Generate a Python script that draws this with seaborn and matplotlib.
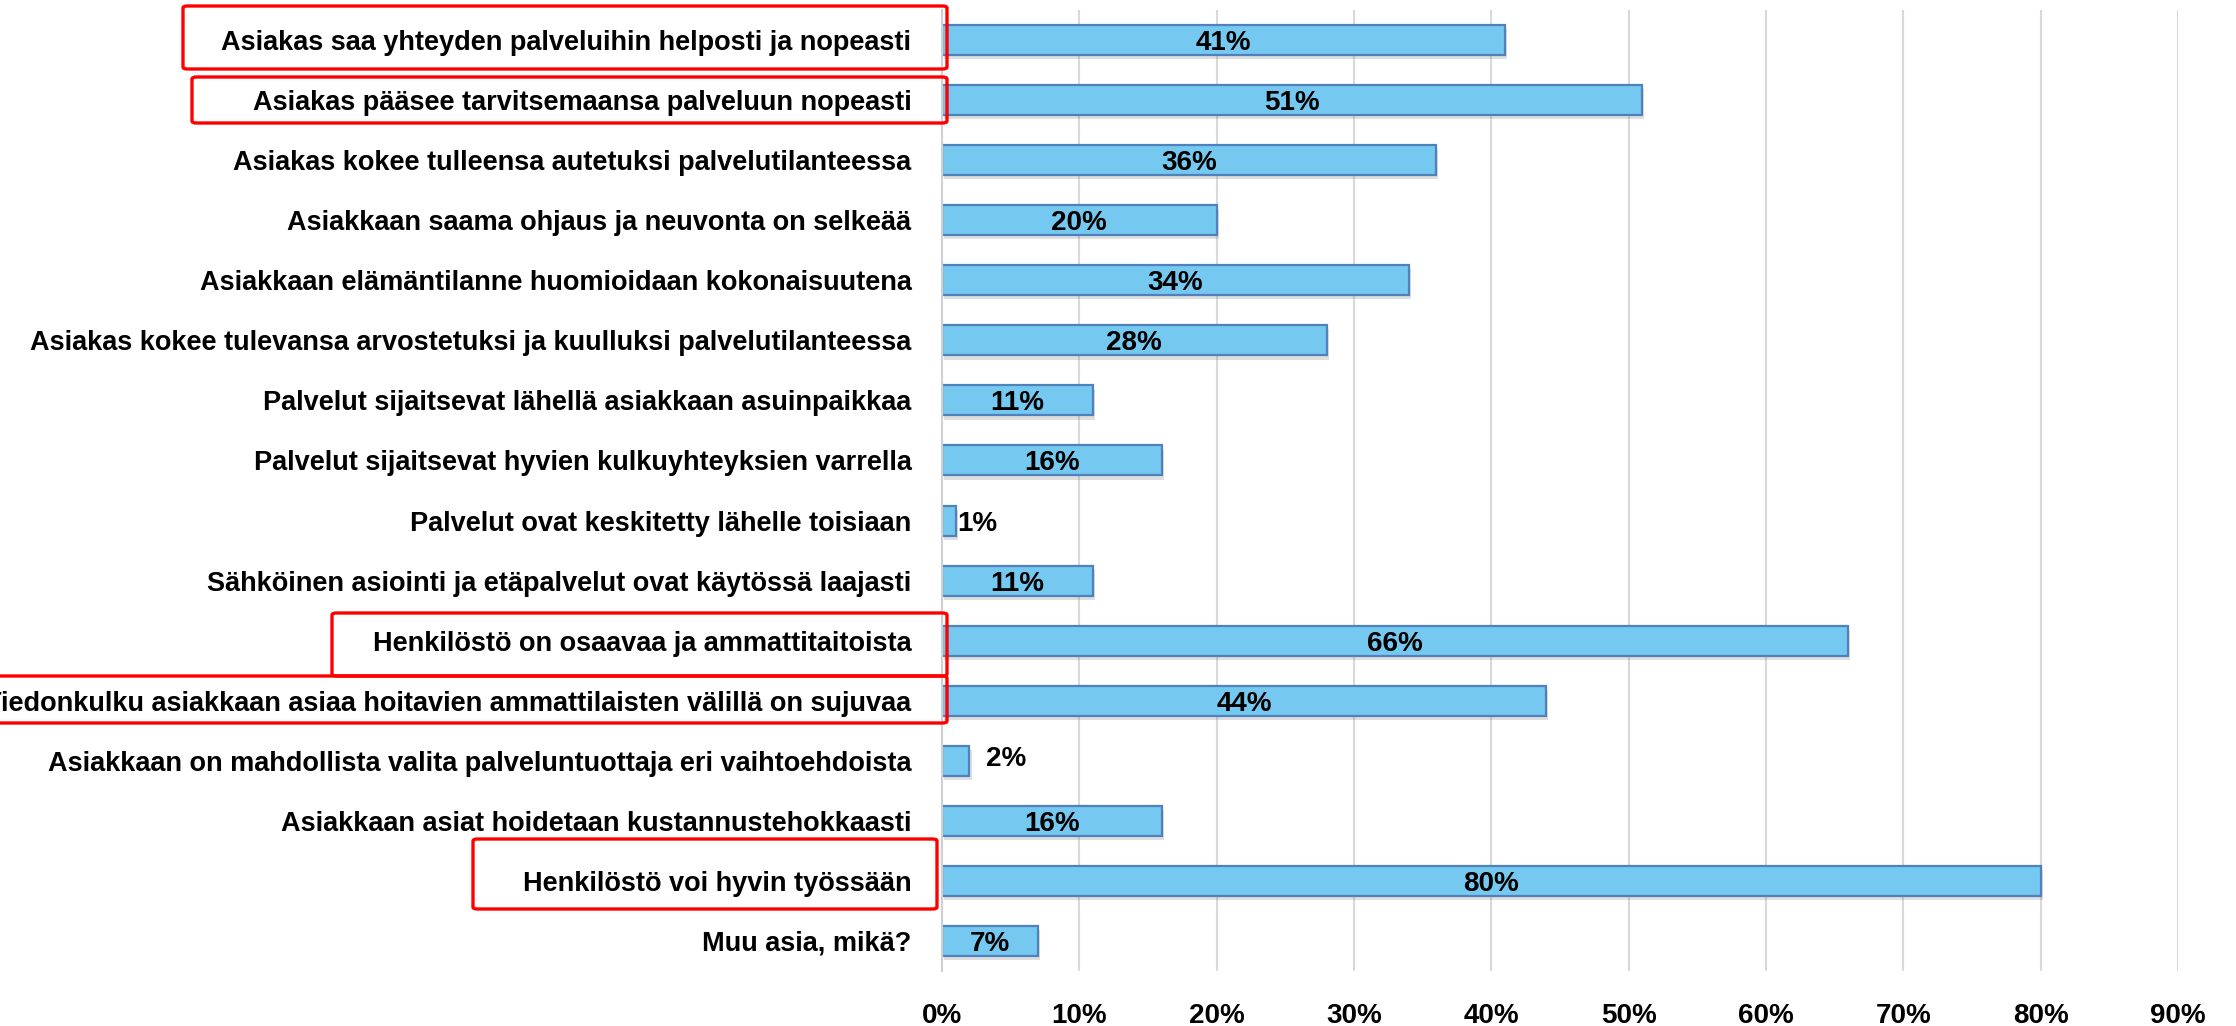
# plot.py
# ─────────────────────────────────────────────
# Horizontal bar chart: survey answers (share of respondents)
# with red highlight boxes around selected statements.
# ─────────────────────────────────────────────

import matplotlib
matplotlib.use('Agg')                          # no display needed
import matplotlib.pyplot as plt
import matplotlib.patheffects as pe
from matplotlib import font_manager
from matplotlib.patches import FancyBboxPatch
from matplotlib.ticker import PercentFormatter
import seaborn as sns
import pandas as pd

# ── 0. Data ─────────────────────────────────────────────────────────────
statements = [
    "Asiakas saa yhteyden palveluihin helposti ja nopeasti",
    "Asiakas pääsee tarvitsemaansa palveluun nopeasti",
    "Asiakas kokee tulleensa autetuksi palvelutilanteessa",
    "Asiakkaan saama ohjaus ja neuvonta on selkeää",
    "Asiakkaan elämäntilanne huomioidaan kokonaisuutena",
    "Asiakas kokee tulevansa arvostetuksi ja kuulluksi palvelutilanteessa",
    "Palvelut sijaitsevat lähellä asiakkaan asuinpaikkaa",
    "Palvelut sijaitsevat hyvien kulkuyhteyksien varrella",
    "Palvelut ovat keskitetty lähelle toisiaan",
    "Sähköinen asiointi ja etäpalvelut ovat käytössä laajasti",
    "Henkilöstö on osaavaa ja ammattitaitoista",
    "Tiedonkulku asiakkaan asiaa hoitavien ammattilaisten välillä on sujuvaa",
    "Asiakkaan on mahdollista valita palveluntuottaja eri vaihtoehdoista",
    "Asiakkaan asiat hoidetaan kustannustehokkaasti",
    "Henkilöstö voi hyvin työssään",
    "Muu asia, mikä?",
]
shares = [0.41, 0.51, 0.36, 0.20, 0.34, 0.28, 0.11, 0.16,
          0.01, 0.11, 0.66, 0.44, 0.02, 0.16, 0.80, 0.07]
x_ticks = [0.0, 0.1, 0.2, 0.3, 0.4, 0.5, 0.6, 0.7, 0.8, 0.9]

# statements framed in red (boxes in figure pixels: x0, x1, y_top, y_bottom)
highlight_boxes = [
    (183, 947, 6, 69),
    (192, 947, 77, 123),
    (332, 947, 613, 676),
    (-10, 947, 676, 723),
    (473, 937, 839, 909),
]

df = pd.DataFrame({"statement": statements, "share": shares})

# ── 1. Style ────────────────────────────────────────────────────────────
sns.set_style("white")
names = {f.name for f in font_manager.fontManager.ttflist}
if "Liberation Sans Narrow" in names:
    plt.rcParams['font.family'] = ['Liberation Sans Narrow', 'DejaVu Sans']
    label_fs, value_fs = 24, 24.5
else:
    plt.rcParams['font.family'] = ['Liberation Sans', 'DejaVu Sans']
    label_fs, value_fs = 19.5, 20
plt.rcParams['font.weight'] = 'bold'

W, H = 2236, 1026
fig = plt.figure(figsize=(W / 100, H / 100), dpi=100)
ax = fig.add_axes([942 / W, 1 - 971 / H, (2178 - 942) / W, 961 / H])

# ── 2. Bars ─────────────────────────────────────────────────────────────
sns.barplot(
    data      = df,
    x         = "share",
    y         = "statement",
    orient    = "h",
    color     = "#75C8EF",
    edgecolor = "#4F81BD",
    linewidth = 1.6,
    width     = 0.5,
    saturation= 1,
    ax        = ax,
)
for bar in ax.patches:
    bar.set_path_effects([pe.SimplePatchShadow(offset=(1.5, -3), alpha=0.25,
                                               shadow_rgbFace='#808080'),
                          pe.Normal()])

# value labels: inside bar centre, just outside for the tiny ones
for bar, v in zip(ax.patches, shares):
    y_mid = bar.get_y() + bar.get_height() / 2
    txt = f"{v * 100:.0f}%"
    if v >= 0.05:
        ax.annotate(txt, (v / 2, y_mid), ha='center', va='center_baseline',
                    fontsize=value_fs, fontweight='bold', color='black')
    elif v < 0.015:
        ax.annotate(txt, (v, y_mid), xytext=(2, 0), textcoords='offset pixels',
                    ha='left', va='center_baseline', fontsize=value_fs,
                    fontweight='bold', color='black')
    else:
        ax.annotate(txt, (v, y_mid), xytext=(17, 5), textcoords='offset pixels',
                    ha='left', va='center_baseline', fontsize=value_fs,
                    fontweight='bold', color='black')

# ── 3. Axes ─────────────────────────────────────────────────────────────
ax.set_xlim(0, 0.9)
ax.set_ylim(len(statements) - 0.5, -0.5)
ax.set_xticks(x_ticks)
ax.xaxis.set_major_formatter(PercentFormatter(1.0, decimals=0))
ax.grid(axis='x', color='#D9D9D9', linewidth=1.5)
ax.set_axisbelow(True)
ax.set_xlabel("")
ax.set_ylabel("")
for side in ['top', 'right', 'bottom']:
    ax.spines[side].set_visible(False)
ax.spines['left'].set_color('#D0D0D0')
ax.spines['left'].set_linewidth(1.5)
ax.tick_params(axis='y', length=0, pad=22, labelsize=label_fs)
ax.tick_params(axis='x', length=0, pad=23, labelsize=value_fs)
for t in ax.get_yticklabels() + ax.get_xticklabels():
    t.set_fontweight('bold')
    t.set_color('black')

# ── 4. Red highlight boxes ──────────────────────────────────────────────
for x0, x1, yt, yb in highlight_boxes:
    box = FancyBboxPatch(
        (x0 / W, 1 - yb / H), (x1 - x0) / W, (yb - yt) / H,
        boxstyle="round,pad=0,rounding_size=0.002",
        transform=fig.transFigure, fill=False,
        edgecolor='#FF0000', linewidth=2.4, clip_on=False, zorder=10,
    )
    fig.patches.append(box)

plt.savefig("out.png", dpi=100)
plt.close()
